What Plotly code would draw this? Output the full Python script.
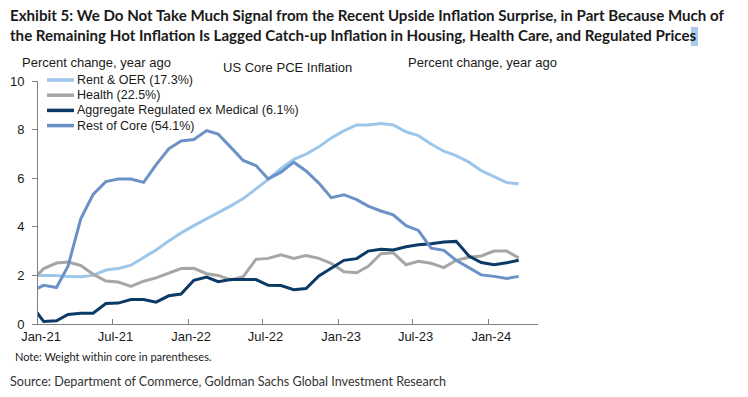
import pandas as pd
import plotly.graph_objects as go

# ---- data (monthly, % change year ago), Dec-20 .. Mar-24 ----
months = pd.date_range("2020-12-01", "2024-03-01", freq="MS") + pd.Timedelta(days=14)

rent_oer = [2.0, 2.0, 2.0, 1.95, 1.94, 2.0, 2.22, 2.28, 2.42, 2.74, 3.04, 3.42, 3.75,
            4.05, 4.32, 4.58, 4.86, 5.16, 5.55, 5.95, 6.4, 6.78, 6.99, 7.29, 7.65,
            7.95, 8.19, 8.19, 8.25, 8.19, 7.91, 7.75, 7.41, 7.11, 6.93, 6.66, 6.31,
            6.07, 5.82, 5.77]
health = [1.75, 2.28, 2.51, 2.55, 2.41, 2.05, 1.77, 1.73, 1.55, 1.76, 1.90, 2.08, 2.28,
          2.29, 2.07, 2.0, 1.81, 1.95, 2.66, 2.70, 2.85, 2.70, 2.82, 2.70, 2.50,
          2.15, 2.11, 2.37, 2.89, 2.93, 2.44, 2.58, 2.50, 2.32, 2.62, 2.75, 2.80,
          3.0, 3.0, 2.72]
regulated = [0.8, 0.1, 0.13, 0.39, 0.44, 0.44, 0.84, 0.86, 1.01, 1.01, 0.9, 1.16, 1.23,
             1.8, 1.93, 1.74, 1.83, 1.83, 1.83, 1.59, 1.58, 1.41, 1.46, 1.98, 2.29,
             2.62, 2.69, 3.0, 3.08, 3.05, 3.18, 3.26, 3.30, 3.37, 3.40, 2.8, 2.53,
             2.44, 2.52, 2.62]
rest_core = [1.35, 1.59, 1.50, 2.38, 4.33, 5.33, 5.86, 5.97, 5.97, 5.83, 6.55, 7.21, 7.53,
             7.59, 7.96, 7.82, 7.27, 6.73, 6.52, 5.97, 6.25, 6.66, 6.3, 5.8, 5.2,
             5.32, 5.12, 4.85, 4.65, 4.49, 4.05, 3.85, 3.12, 3.03, 2.62, 2.3, 2.02,
             1.96, 1.87, 1.96]

series_names = ["Rent & OER (17.3%)", "Health (22.5%)",
                "Aggregate Regulated ex Medical (6.1%)", "Rest of Core (54.1%)"]
series_values = [rent_oer, health, regulated, rest_core]
series_colors = ["#9dc7ea", "#a6a6a6", "#0b3a66", "#6b92c6"]

y_ticks = [0, 2, 4, 6, 8, 10]

# ---- layout geometry (pixels) ----
W, H = 748, 397
L, R, T, B = 38, 538, 81, 324


def px(x):
    return (x - L) / (R - L)


def py(y):
    return (B - y) / (B - T)


fig = go.Figure()
for name, vals, col in zip(series_names, series_values, series_colors):
    fig.add_trace(go.Scatter(x=months, y=vals, mode="lines", name=name,
                             line=dict(color=col, width=3), showlegend=False,
                             hoverinfo="skip"))

axis_font = dict(family="Liberation Sans, Arial", size=13, color="#1a1a1a")
cond = "Lato"

common_y = dict(range=[0, 10], tickvals=y_ticks, ticks="outside", ticklen=5,
                tickcolor="#808080", showline=True, linecolor="#808080",
                linewidth=1, showgrid=False, zeroline=False, tickfont=axis_font,
                ticklabelstandoff=5, automargin=False)

fig.update_layout(
    width=W, height=H,
    margin=dict(l=L, r=W - R, t=T, b=H - B),
    paper_bgcolor="white", plot_bgcolor="white",
    xaxis=dict(type="date", range=["2021-01-01", "2024-05-01"],
               tick0="2021-01-01", dtick="M6", tickformat="%b-%y",
               ticks="inside", ticklen=5, tickcolor="#808080",
               showline=True, linecolor="#808080", linewidth=1,
               showgrid=False, zeroline=False, tickfont=axis_font,
               ticklabelshift=3, automargin=False),
    yaxis=dict(**common_y),
    yaxis2=dict(**common_y, overlaying="y", side="right", anchor="x"),
)

annotations = []
shapes = []

# title
annotations.append(dict(
    text="<b>Exhibit 5: We Do Not Take Much Signal from the Recent Upside Inflation Surprise, in Part Because Much of"
         "<br>the Remaining Hot Inflation Is Lagged Catch-up Inflation in Housing, Health Care, and Regulated Prices</b>",
    x=px(8), y=py(4), xref="paper", yref="paper", xanchor="left", yanchor="top",
    align="left", showarrow=False,
    font=dict(family=cond, size=15.1, color="#1a1a1a")))
shapes.append(dict(type="rect", xref="paper", yref="paper",
                   x0=px(691), x1=px(698), y0=py(46), y1=py(27),
                   fillcolor="#a9c9ec", line=dict(width=0), layer="below"))

# axis titles
for text, x in [("Percent change, year ago", 20), ("Percent change, year ago", 406)]:
    annotations.append(dict(text=text, x=px(x), y=py(62), xref="paper", yref="paper",
                            xanchor="left", yanchor="middle", showarrow=False,
                            font=axis_font))
annotations.append(dict(text="US Core PCE Inflation", x=px(287), y=py(67),
                        xref="paper", yref="paper", xanchor="center",
                        yanchor="middle", showarrow=False, font=axis_font))

# legend (manual)
for i, (name, col) in enumerate(zip(series_names, series_colors)):
    yy = 80 + 15.2 * i
    shapes.append(dict(type="line", xref="paper", yref="paper",
                       x0=px(47), x1=px(74), y0=py(yy), y1=py(yy),
                       line=dict(color=col, width=3.5)))
    annotations.append(dict(text=name, x=px(75), y=py(yy), xref="paper", yref="paper",
                            xanchor="left", yanchor="middle", showarrow=False,
                            font=dict(family="Liberation Sans, Arial", size=12.5,
                                      color="#1a1a1a")))

# note and source
annotations.append(dict(text="Note: Weight within core in parentheses.",
                        x=px(13), y=py(356), xref="paper", yref="paper",
                        xanchor="left", yanchor="middle", showarrow=False,
                        font=dict(family=cond, size=11, color="#1a1a1a")))
annotations.append(dict(text="Source: Department of Commerce, Goldman Sachs Global Investment Research",
                        x=px(8), y=py(381), xref="paper", yref="paper",
                        xanchor="left", yanchor="middle", showarrow=False,
                        font=dict(family=cond, size=12.6, color="#333333")))

fig.update_layout(annotations=annotations, shapes=shapes)
fig.write_html("out.html", config={"displayModeBar": False},
               post_script="document.body.style.margin='0';document.body.style.padding='0';")
